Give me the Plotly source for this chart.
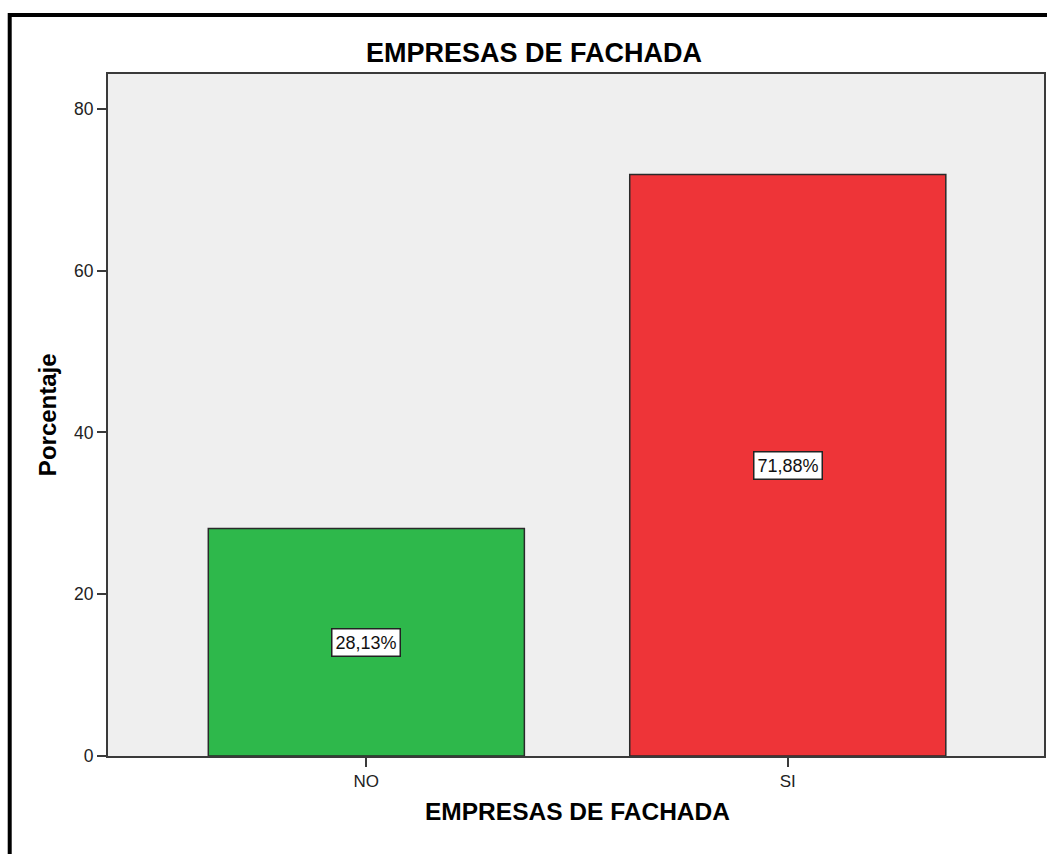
import plotly.graph_objects as go

categories = ["NO", "SI"]
percentages = [28.13, 71.88]
labels = ["28,13%", "71,88%"]
bar_colors = ["#2eb84b", "#ee3438"]
y_ticks = [0, 20, 40, 60, 80]

W, H = 1047, 854
ML, MR, MT, MB = 108, 1, 74, 98
PW, PH = W - ML - MR, H - MT - MB

def px(x):
    return (x - ML) / PW

def py(y):
    return (H - MB - y) / PH

font_family = "Liberation Sans, Arial, sans-serif"

fig = go.Figure()
fig.add_trace(go.Bar(
    x=categories, y=percentages, width=0.75,
    marker=dict(color=bar_colors, line=dict(color="#2a2a2a", width=1.5)),
    hoverinfo="skip",
))

annotations = []
for c, v, t in zip(categories, percentages, labels):
    annotations.append(dict(
        x=c, y=v / 2, xref="x", yref="y", text=t, showarrow=False,
        font=dict(family=font_family, size=18, color="#111"),
        bgcolor="white", bordercolor="#222", borderwidth=1.5, borderpad=3,
    ))

annotations += [
    dict(x=px(534.5), y=py(52.5), xref="paper", yref="paper",
         text="<b>EMPRESAS DE FACHADA</b>", showarrow=False,
         xanchor="center", yanchor="middle",
         font=dict(family=font_family, size=27, color="#000")),
    dict(x=px(578.5), y=py(811), xref="paper", yref="paper",
         text="<b>EMPRESAS DE FACHADA</b>", showarrow=False,
         xanchor="center", yanchor="middle",
         font=dict(family=font_family, size=24.5, color="#000")),
    dict(x=px(47), y=py(415), xref="paper", yref="paper",
         text="<b>Porcentaje</b>", showarrow=False, textangle=-90,
         xanchor="center", yanchor="middle",
         font=dict(family=font_family, size=24, color="#000")),
]

fig.update_layout(
    width=W, height=H,
    margin=dict(l=ML, r=MR, t=MT, b=MB, pad=0),
    paper_bgcolor="white", plot_bgcolor="#efefef",
    showlegend=False,
    annotations=annotations,
    shapes=[dict(type="rect", xref="paper", yref="paper",
                 x0=px(9.5), x1=1.3, y0=-0.4, y1=py(15),
                 line=dict(color="black", width=4), fillcolor="rgba(0,0,0,0)",
                 layer="above")],
    font=dict(family=font_family),
)
fig.update_xaxes(
    type="category", range=[-0.613, 1.608],
    showgrid=False, zeroline=False,
    showline=True, linecolor="#3a3a3a", linewidth=2, mirror=True,
    ticks="outside", ticklen=9, tickwidth=1.5, tickcolor="#3a3a3a",
    tickfont=dict(family=font_family, size=17, color="#222"),
)
fig.update_yaxes(
    range=[0, 84.3], tickvals=y_ticks,
    showgrid=False, zeroline=False,
    showline=True, linecolor="#3a3a3a", linewidth=2, mirror=True,
    ticks="outside", ticklen=9, tickwidth=1.5, tickcolor="#3a3a3a",
    tickfont=dict(family=font_family, size=17.5, color="#222"),
)

fig.write_html("out.html")
